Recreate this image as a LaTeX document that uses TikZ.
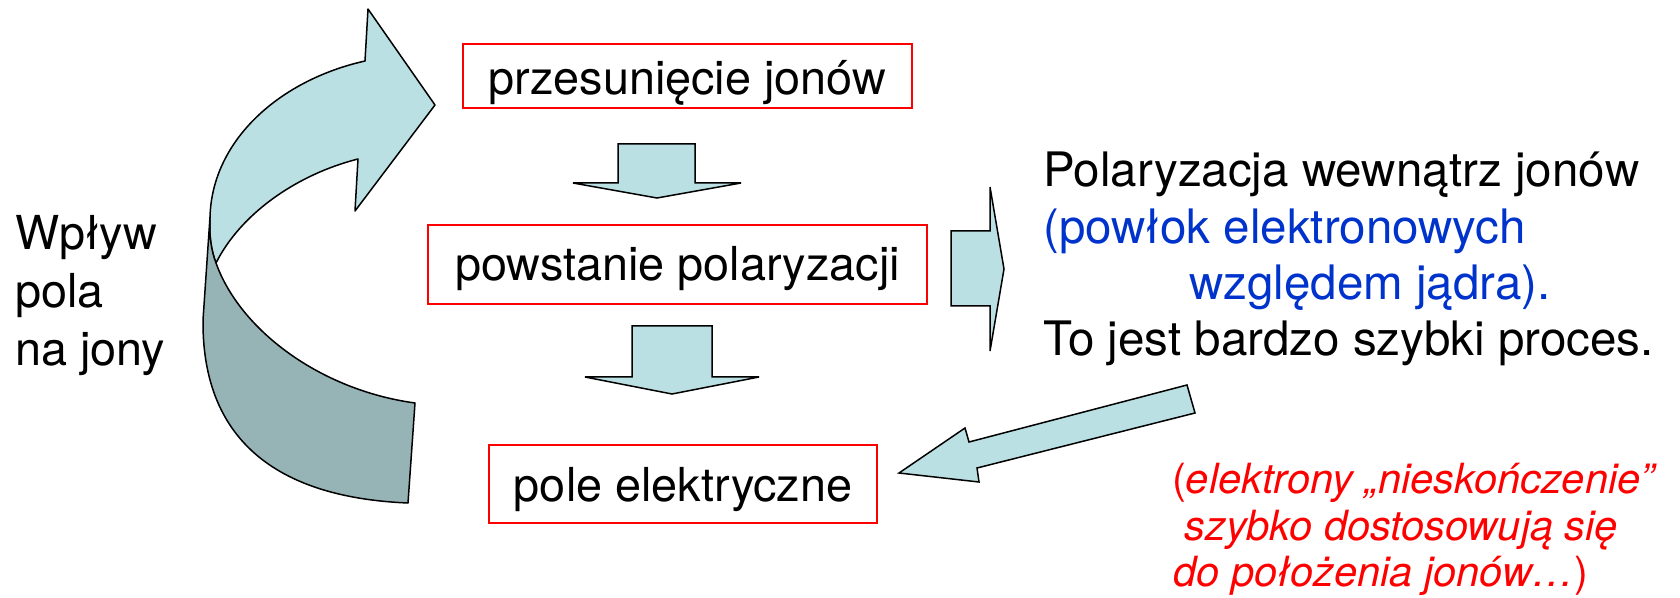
\documentclass[tikz,border=0pt]{standalone}
\usepackage{fontspec}
\setmainfont{TeX Gyre Heros}
\definecolor{lightc}{RGB}{187,224,227}
\definecolor{darkc}{RGB}{150,179,181}
\definecolor{bluet}{RGB}{0,51,204}
\definecolor{redt}{RGB}{255,0,0}
\tikzset{
  bigtxt/.style={inner sep=0pt, anchor=base west, font=\fontsize{23.4}{28}\selectfont},
  righttxt/.style={inner sep=0pt, anchor=base west, font=\fontsize{23.75}{28}\selectfont},
  redtxt/.style={inner sep=0pt, anchor=base west, text=redt, font=\fontsize{20.8}{24}\selectfont},
  redbox/.style={draw=redt, line width=1pt, inner sep=0pt, anchor=north west, font=\fontsize{23.4}{28}\selectfont},
  blockarrow/.style={draw=black, fill=lightc, line width=0.75pt, line join=miter},
  darkpart/.style={draw=black, fill=darkc, line width=0.75pt, line join=round},
}
\begin{document}
\begin{tikzpicture}[x=0.5pt,y=-0.5pt]
\useasboundingbox (0,0) rectangle (1680,598);
% curved arrow
\draw[blockarrow, line join=round] (365,61) .. controls (280,80) and (212,140) .. (210,217)
  .. controls (209,235) and (211,250) .. (216,263)
  .. controls (240,215) and (295,175) .. (358,159)
  -- (355,211) -- (435,105) -- (368,9) -- cycle;
\draw[darkpart] (210,217) -- (203,320) .. controls (202,430) and (265,497) .. (408,503)
  -- (415,403) .. controls (320,390) and (240,330) .. (216,263)
  .. controls (211,250) and (209,235) .. (210,217) -- cycle;
% boxes
\node[redbox, text height=25.15pt, text depth=6.7pt, minimum width=224.65pt] (b1) at (461.7,43) {przesunięcie jonów};
\node[redbox, text height=28pt, text depth=11.35pt, minimum width=249.2pt] (b2) at (427.3,224) {powstanie polaryzacji};
\node[redbox, text height=28pt, text depth=11pt, minimum width=193.85pt] (b3) at (488.3,444) {pole elektryczne};
% down arrows
\draw[blockarrow] (618,144) -- (695,144) -- (695,183) -- (741,183) -- (657,198) -- (573,183) -- (618,183) -- cycle;
\draw[blockarrow] (632,326) -- (712,326) -- (712,377) -- (759,377) -- (672,394) -- (585,377) -- (632,377) -- cycle;
% right arrow
\draw[blockarrow] (951,231) -- (990,231) -- (990,187) -- (1004,269) -- (990,351) -- (990,306) -- (951,306) -- cycle;
% diagonal arrow
\draw[blockarrow] (899,473) -- (965,428) -- (969,442) -- (1187,385) -- (1195,413) -- (977,468) -- (979,482) -- cycle;
% left text
\node[bigtxt] (l1) at (15,250) {Wpływ};
\node[bigtxt] (l2) at (15,308) {pola};
\node[bigtxt] (l3) at (15,365) {na jony};
% right text
\node[righttxt] (r1) at (1043,187) {Polaryzacja wewnątrz jonów};
\node[righttxt, text=bluet] (r2) at (1043,244) {(powłok elektronowych};
\node[righttxt, text=bluet] (r3) at (1189,300) {względem jądra).};
\node[righttxt] (r4) at (1043,356) {To jest bardzo szybki proces.};
% red text
\node[redtxt] (e1) at (1171.7,493.3) {(\textit{elektrony „nieskończenie”}};
\node[redtxt] (e2) at (1184,540) {\textit{szybko dostosowują się}};
\node[redtxt] (e3) at (1173,586.7) {\textit{do położenia jonów…})};
\end{tikzpicture}
\end{document}
